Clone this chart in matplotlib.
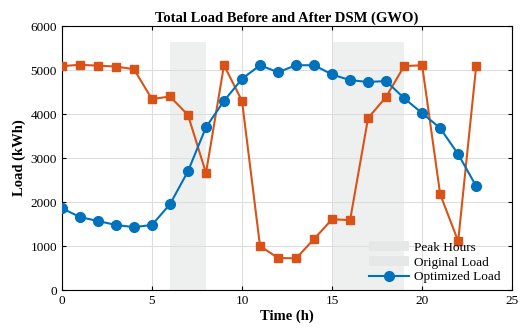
import matplotlib
matplotlib.use("Agg")
import matplotlib.pyplot as plt
from matplotlib.patches import Patch
import numpy as np

hours = np.arange(24)
original = [5090, 5120, 5100, 5080, 5020, 4340, 4400, 3980, 2660, 5110, 4300, 1000,
            730, 720, 1160, 1610, 1590, 3910, 4390, 5090, 5110, 2180, 1110, 5090]
optimized = [1860, 1660, 1570, 1480, 1430, 1480, 1950, 2700, 3700, 4300, 4800, 5110,
             4950, 5110, 5110, 4900, 4770, 4730, 4750, 4360, 4020, 3680, 3090, 2360]
peak_windows = [(6, 8), (15, 19)]
peak_top = 5630

plt.rcParams['font.family'] = ['Liberation Serif', 'DejaVu Serif']
plt.rcParams['font.size'] = 9.5

fig = plt.figure(figsize=(5.2, 3.3), dpi=100)
ax = fig.add_axes([0.119, 0.121, 0.866, 0.80])

for a, b in peak_windows:
    ax.fill_between([a, b], 0, peak_top, color='#eef0ef', lw=0, zorder=0)

ax.plot(hours, original, color='#D95319', marker='s', ms=6, lw=1.5, zorder=3)
ax.plot(hours, optimized, color='#0072BD', marker='o', ms=7, lw=1.5, zorder=3)

ax.set_xlim(0, 25)
ax.set_ylim(0, 6000)
ax.set_xticks(range(0, 26, 5))
ax.set_yticks(range(0, 6001, 1000))
ax.grid(True, color='#dddddd', lw=0.8)
ax.set_axisbelow(True)
ax.tick_params(direction='in', length=3, top=True, right=True, labelsize=9.5)
for s in ax.spines.values():
    s.set_linewidth(0.8)

ax.set_title('Total Load Before and After DSM (GWO)', fontweight='bold', fontsize=10.5, pad=3)
ax.set_xlabel('Time (h)', fontweight='bold', fontsize=10.5, labelpad=2)
ax.set_ylabel('Load (kWh)', fontweight='bold', fontsize=10.5, labelpad=3)

handles = [Patch(facecolor='#e6e8e7', edgecolor='none'),
           Patch(facecolor='#e6e8e7', edgecolor='none'),
           plt.Line2D([], [], color='#0072BD', marker='o', ms=7, lw=1.5)]
ax.legend(handles, ['Peak Hours', 'Original Load', 'Optimized Load'],
          loc='lower right', bbox_to_anchor=(1.0, -0.02), frameon=False,
          fontsize=9.5, handlelength=3, labelspacing=0.2, handletextpad=0.4)

fig.savefig('out.png', dpi=100)
